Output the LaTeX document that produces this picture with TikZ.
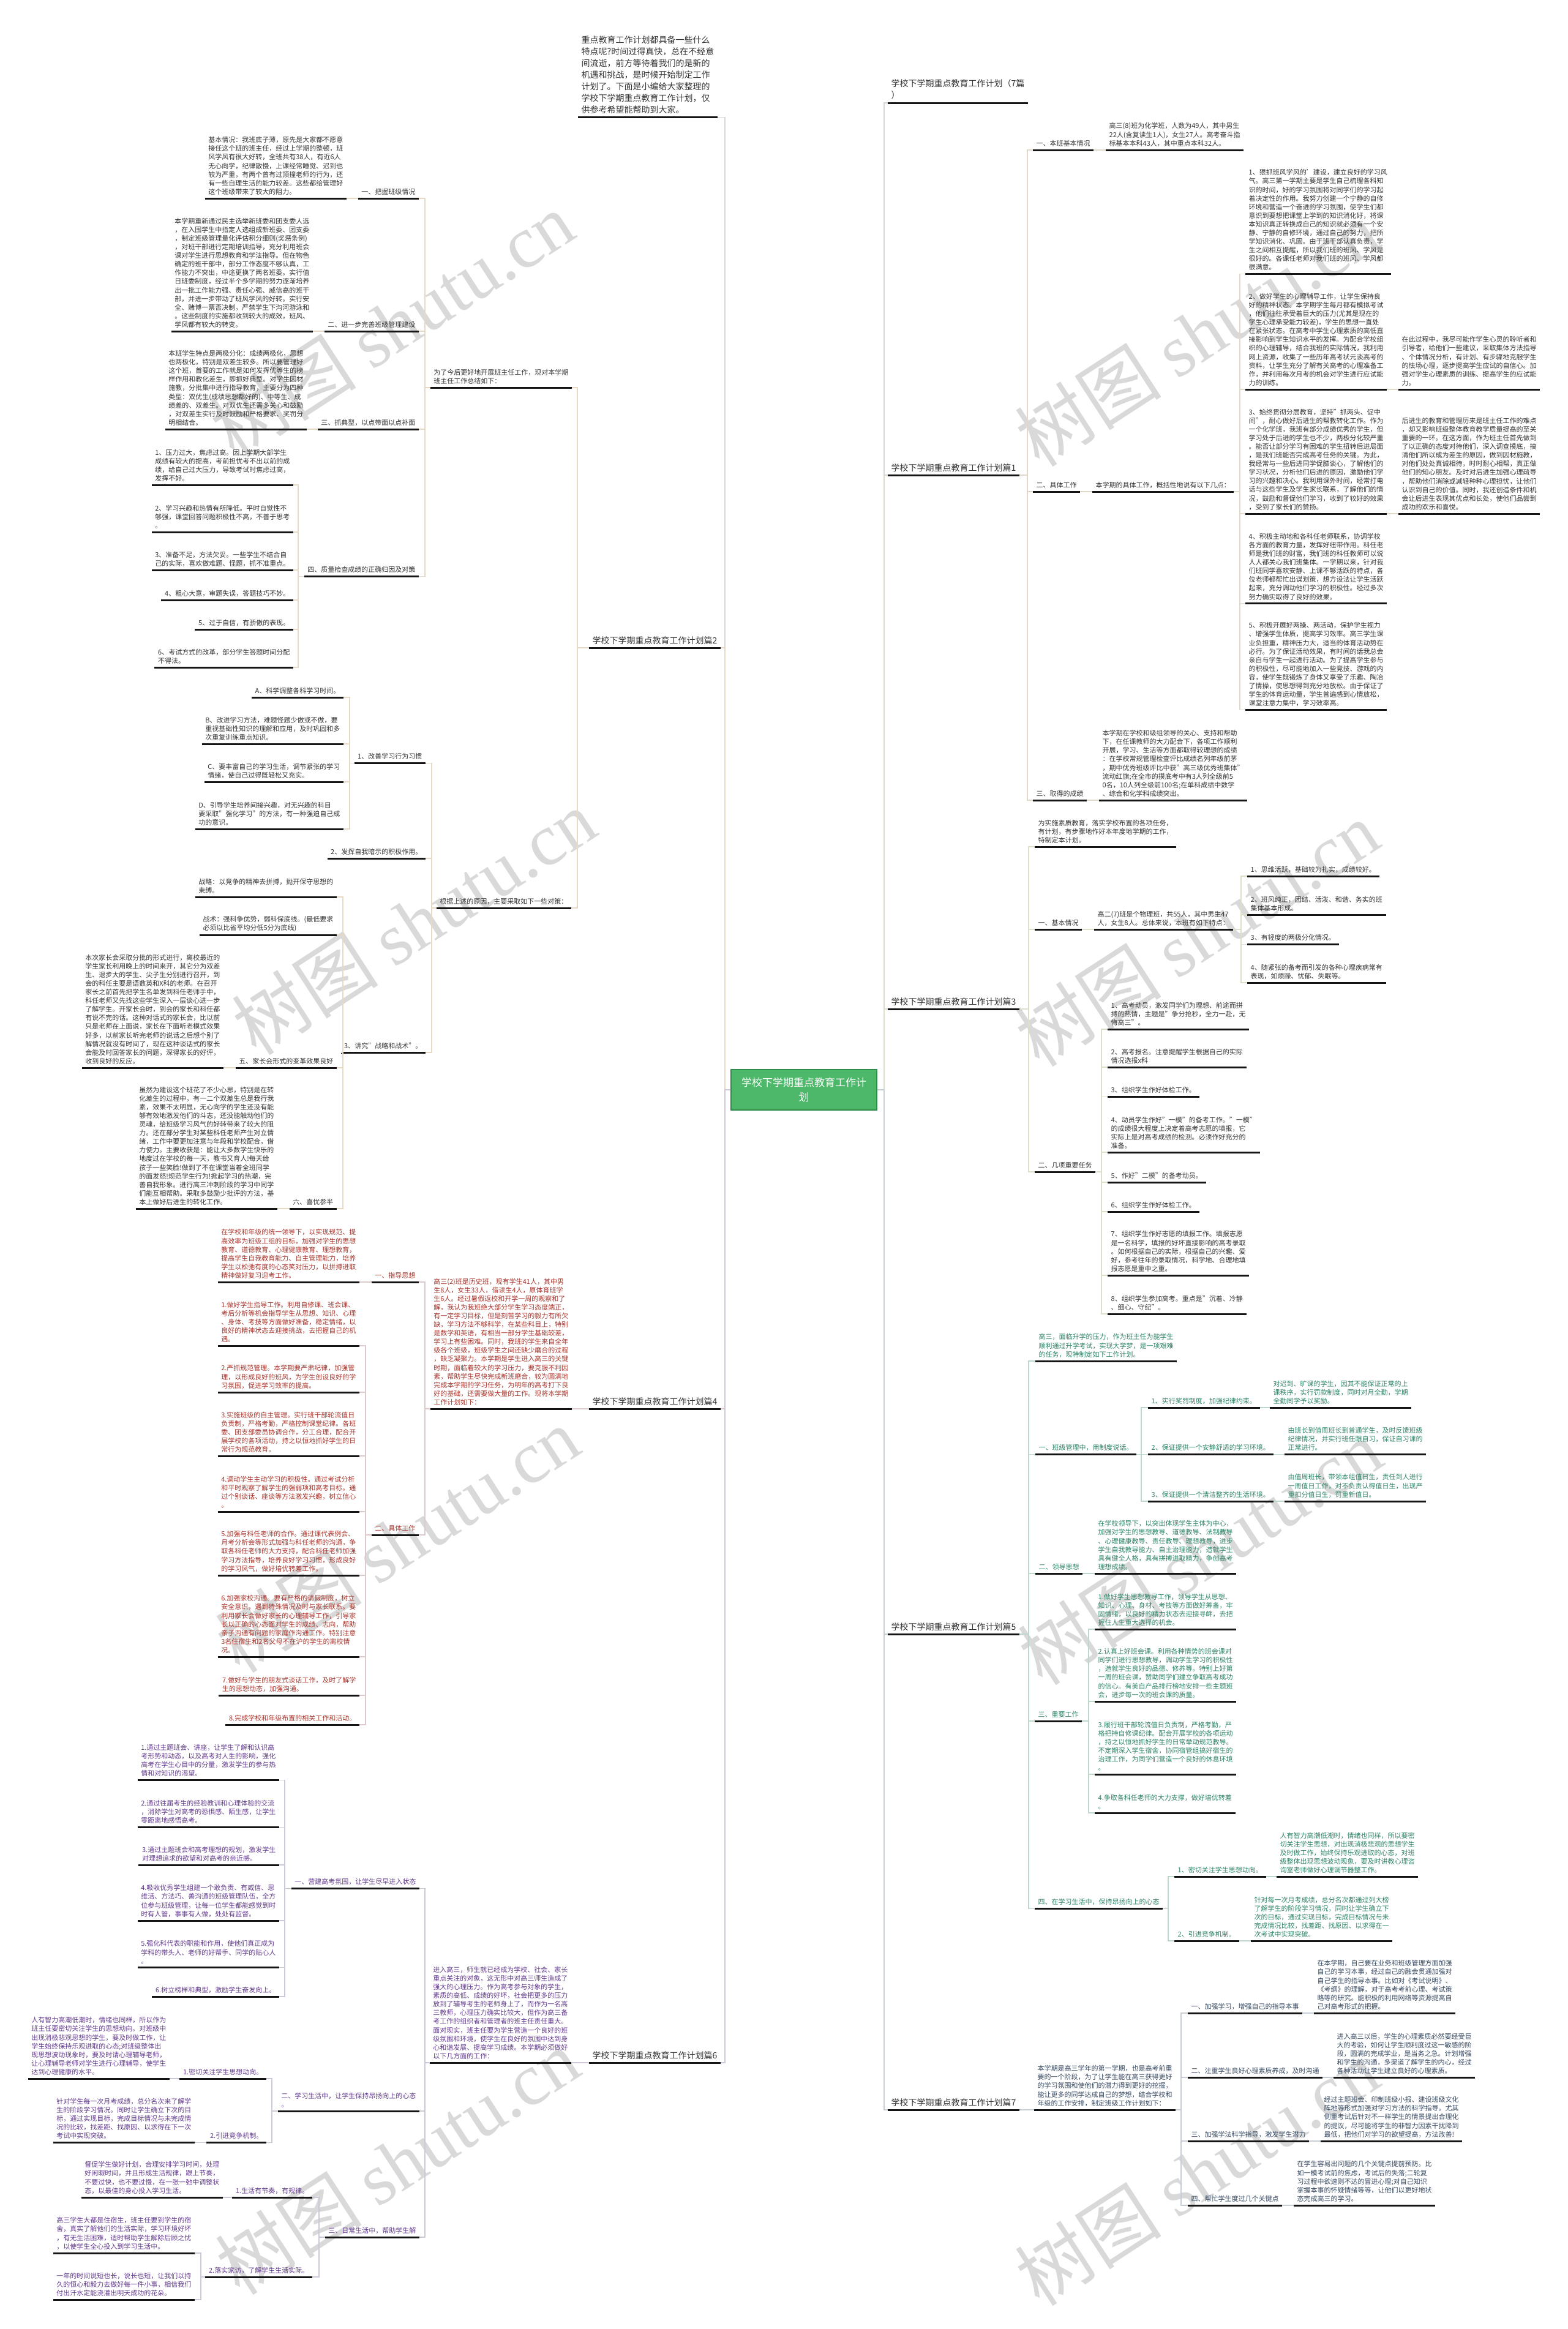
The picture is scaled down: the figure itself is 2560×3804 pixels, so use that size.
\documentclass[tikz,border=0pt]{standalone}
\usepackage{fontspec}
\setmainfont{Noto Sans CJK SC}
\newfontfamily\wmf{Liberation Serif}
\definecolor{tx}{HTML}{333333}
\definecolor{ulc}{HTML}{141414}
\definecolor{red4}{HTML}{A8342B}
\definecolor{grn5}{HTML}{2B8366}
\definecolor{pur6}{HTML}{623A8E}
\definecolor{nav7}{HTML}{34475F}
\definecolor{k1}{HTML}{E0D8CA}
\definecolor{k2}{HTML}{E6DAC6}
\definecolor{k3}{HTML}{DCDFC9}
\definecolor{k4}{HTML}{DDCACA}
\definecolor{k5}{HTML}{BDD7CB}
\definecolor{k6}{HTML}{CEC8D8}
\definecolor{k7}{HTML}{C8CED6}
\definecolor{kc}{HTML}{D6D6D6}
\definecolor{rootfill}{HTML}{4DB86A}
\definecolor{rootdraw}{HTML}{2E8B4A}
\definecolor{wmc}{HTML}{D9D9D9}
\newcommand\cnL[4]{\draw[#1] (#2.south west) -- (#2.south west -| #3) |- (#4.south east);}
\newcommand\cnR[4]{\draw[#1] (#2.south east) -- (#2.south east -| #3) |- (#4.south west);}
\newcommand\cnLs[3]{\draw[#1] (#2.south west) -- (#3.south east);}
\newcommand\cnRs[3]{\draw[#1] (#2.south east) -- (#3.south west);}
\tikzset{
  ul/.style={draw=ulc, line width=3pt},
  base/.style={inner xsep=5.5pt, inner ysep=5.5pt, align=left, font=\fontsize{11}{14.1}\selectfont,
    append after command={(\tikzlastnode.south west) edge[ul] (\tikzlastnode.south east)}},
  L/.style={base, anchor=south east},
  R/.style={base, anchor=south west},
  big/.style={font=\fontsize{14}{19}\selectfont},
  cn/.style={draw=#1, line width=1.5pt},
  wm/.style={font=\fontsize{120}{120}\selectfont, text=wmc, rotate=33, inner sep=0pt},
  rootbox/.style={draw=rootdraw, line width=1.5pt, fill=rootfill, text=white, minimum width=238pt, minimum height=66pt, align=center, font=\fontsize{17}{24}\selectfont, inner sep=6pt}
}
\begin{document}
\begin{tikzpicture}[x=1pt,y=-1pt]
\useasboundingbox (0,0) rectangle (2560,3804);
\fill[white] (0,0) rectangle (2560,3804);
% watermarks
\node[wm] (wm1) at (640,530) {树图 {\wmf shutu.cn}};
\node[wm] (wm2) at (1955,545) {树图 {\wmf shutu.cn}};
\node[wm] (wm3) at (676,1506) {树图 {\wmf shutu.cn}};
\node[wm] (wm4) at (1955,1525) {树图 {\wmf shutu.cn}};
\node[wm] (wm5) at (649,2515) {树图 {\wmf shutu.cn}};
\node[wm] (wm6) at (1960,2535) {树图 {\wmf shutu.cn}};
\node[wm] (wm7) at (649,3531) {树图 {\wmf shutu.cn}};
\node[wm] (wm8) at (1955,3549) {树图 {\wmf shutu.cn}};
% trunks
\coordinate (tL) at (1184,0);
\coordinate (tR) at (1444,0);
\coordinate (t2) at (943,0);
\coordinate (t2a) at (694,0);
\coordinate (t2a4) at (487,0);
\coordinate (t2b) at (705,0);
\coordinate (t2b1) at (571,0);
\coordinate (t2b3) at (560,0);
\coordinate (t4) at (694,0);
\coordinate (t4b) at (597,0);
\coordinate (t6) at (694,0);
\coordinate (t6a) at (465,0);
\coordinate (t6b) at (444,0);
\coordinate (t6c) at (521,0);
\coordinate (t6d) at (328,0);
\coordinate (t1) at (1678,0);
\coordinate (t1b) at (2025,0);
\coordinate (t3) at (1680,0);
\coordinate (t3b) at (2027,0);
\coordinate (t3c) at (1799,0);
\coordinate (t5) at (1680,0);
\coordinate (t5a) at (1864,0);
\coordinate (t5c) at (1778,0);
\coordinate (t5d) at (1908,0);
\coordinate (t7) at (1929,0);
% root
\node[rootbox] (root) at (1313,1780) {学校下学期重点教育工作计\\划};
% main nodes
\begin{scope}[every node/.append style={text=tx}]
\node[L,big] (intro) at (1172,191.5) {重点教育工作计划都具备一些什么\\特点呢?时间过得真快，总在不经意\\间流逝，前方等待着我们的是新的\\机遇和挑战，是时候开始制定工作\\计划了。下面是小编给大家整理的\\学校下学期重点教育工作计划，仅\\供参考希望能帮助到大家。};
\node[L,big] (p2) at (1177,1058) {学校下学期重点教育工作计划篇2};
\node[L,big] (p4) at (1177,2301) {学校下学期重点教育工作计划篇4};
\node[L,big] (p6) at (1177,3369) {学校下学期重点教育工作计划篇6};
\node[R,big] (title7) at (1450,168) {学校下学期重点教育工作计划（7篇\\）};
\node[R,big] (p1) at (1450,776) {学校下学期重点教育工作计划篇1};
\node[R,big] (p3) at (1450,1648) {学校下学期重点教育工作计划篇3};
\node[R,big] (p5) at (1450,2669) {学校下学期重点教育工作计划篇5};
\node[R,big] (p7) at (1450,3446) {学校下学期重点教育工作计划篇7};
\end{scope}
% ===== 篇2 =====
\begin{scope}[every node/.append style={text=tx}]
\node[L] (b2a) at (934,633) {为了今后更好地开展班主任工作，现对本学期\\班主任工作总结如下：};
\node[L] (b2b) at (933,1483) {根据上述的原因，主要采取如下一些对策：};
\node[L] (b2a1) at (684,324) {一、把握班级情况};
\node[L] (b2a1t) at (566,324) {基本情况：我班底子薄，原先是大家都不愿意\\接任这个班的班主任，经过上学期的整顿，班\\风学风有很大好转，全班共有38人，有近6人\\无心向学，纪律散慢，上课经常睡觉、迟到也\\较为严重，有两个曾有过顶撞老师的行为，还\\有一些自理生活的能力较差。这些都给管理好\\这个班级带来了较大的阻力。};
\node[L] (b2a2) at (684,541) {二、进一步完善班级管理建设};
\node[L] (b2a2t) at (511,541) {本学期重新通过民主选举新班委和团支委人选\\，在入围学生中指定人选组成新班委、团支委\\，制定班级管理量化评估积分细则(奖惩条例)\\，对班干部进行定期培训指导，充分利用班会\\课对学生进行思想教育和学法指导。但在物色\\确定的班干部中，部分工作态度不够认真，工\\作能力不突出，中途更换了两名班委。实行值\\日班委制度，经过半个多学期的努力逐渐培养\\出一批工作能力强、责任心强、威信高的班干\\部，并进一步带动了班风学风的好转。实行安\\全、赌博一票否决制，严禁学生下沟河游泳和\\。这些制度的实施都收到较大的成效，班风、\\学风都有较大的转变。};
\node[L] (b2a3) at (684,701) {三、抓典型，以点带面以点补面};
\node[L] (b2a3t) at (501,701) {本班学生特点是两极分化：成绩两极化，思想\\也两极化，特别是双差生较多。所以要管理好\\这个班，首要的工作就是如何发挥优等生的榜\\样作用和教化差生，即抓好典型。对学生因材\\施教，分批集中进行指导教育，主要分为四种\\类型：双优生(成绩思想都好的)、中等生、成\\绩差的、双差生。对双优生还需多关心和鼓励\\，对双差生实行及时鼓励和严格要求、奖罚分\\明相结合。};
\node[L] (b2a4) at (684,941.5) {四、质量检查成绩的正确归因及对策};
\node[L] (q1) at (479,792) {1、压力过大，焦虑过高。因上学期大部学生\\成绩有较大的提高，考前担忧考不出以前的成\\绩，给自己过大压力，导致考试时焦虑过高，\\发挥不好。};
\node[L] (q2) at (479,869) {2、学习兴趣和热情有所降低。平时自觉性不\\够强，课堂回答问题积极性不高，不善于思考\\。};
\node[L] (q3) at (479,931) {3、准备不足，方法欠妥。一些学生不结合自\\己的实际，喜欢做难题、怪题，抓不准重点。};
\node[L] (q4) at (479,980) {4、粗心大意，审题失误，答题技巧不妙。};
\node[L] (q5) at (479,1028) {5、过于自信，有骄傲的表现。};
\node[L] (q6) at (479,1090) {6、考试方式的改革，部分学生答题时间分配\\不得法。};
\node[L] (b2b1) at (695,1246.5) {1、改善学习行为习惯};
\node[L] (sA) at (561,1139) {A、科学调整各科学习时间。};
\node[L] (sB) at (561,1215) {B、改进学习方法，难题怪题少做或不做，要\\重视基础性知识的理解和应用，及时巩固和多\\次重复训练重点知识。};
\node[L] (sC) at (561,1277) {C、要丰富自己的学习生活，调节紧张的学习\\情绪，使自己过得既轻松又充实。};
\node[L] (sD) at (561,1354) {D、引导学生培养间接兴趣，对无兴趣的科目\\要采取"强化学习"的方法，有一种强迫自己成\\功的意识。};
\node[L] (b2b2) at (695,1402) {2、发挥自我暗示的积极作用。};
\node[L] (b2b3) at (695,1719) {3、讲究"战略和战术"。};
\node[L] (zl) at (550,1465) {战略：以竞争的精神去拼搏，抛开保守思想的\\束缚。};
\node[L] (zs) at (550,1527) {战术：强科争优势，弱科保底线。(最低要求\\必须以比省平均分低5分为底线)};
\node[L] (n2five) at (550,1744) {五、家长会形式的变革效果良好};
\node[L] (jz) at (365,1744) {本次家长会采取分批的形式进行，离校最近的\\学生家长利用晚上的时间来开，其它分为双差\\生、退步大的学生、尖子生分别进行召开，到\\会的科任主要是语数英和X科的老师。在召开\\家长之前首先把学生名单发到科任老师手中，\\科任老师又先找这些学生深入一层谈心进一步\\了解学生。开家长会时，到会的家长和科任都\\有说不完的话。这种对话式的家长会，比以前\\只是老师在上面说，家长在下面听老模式效果\\好多，以前家长听完老师的说话之后想个别了\\解情况就没有时间了，现在这种谈话式的家长\\会能及时回答家长的问题，深得家长的好评，\\收到良好的反应。};
\node[L] (n2six) at (550,1974) {六、喜忧参半};
\node[L] (sr) at (453,1974) {虽然为建设这个班花了不少心思，特别是在转\\化差生的过程中，有一二个双差生总是我行我\\素，效果不太明显，无心向学的学生还没有能\\够有效地激发他们的斗志，还没能触动他们的\\灵魂，给班级学习风气的好转带来了较大的阻\\力。还在部分学生对某些科任老师产生对立情\\绪，工作中要更加注意与年段和学校配合，借\\力使力。主要收获是：能让大多数学生快乐的\\地度过在学校的每一天，教书又育人!每天给\\孩子一些笑脸!做到了不在课堂当着全班同学\\的面发怒!规范学生行为!掀起学习的热潮，完\\善自我形象。进行高三冲刺阶段的学习中同学\\们能互相帮助。采取多鼓励少批评的方法，基\\本上做好后进生的转化工作。};
\end{scope}
% ===== 篇4 =====
\begin{scope}[every node/.append style={text=red4}]
\node[L] (b4) at (934,2301) {高三(2)班是历史班，现有学生41人，其中男\\生8人，女生33人，借读生4人，原体育班学\\生6人。经过暑假返校和开学一周的观察和了\\解，我认为我班绝大部分学生学习态度端正，\\有一定学习目标，但是刻苦学习的毅力有所欠\\缺，学习方法不够科学，在某些科目上，特别\\是数学和英语，有相当一部分学生基础较差，\\学习上有些困难。同时，我班的学生来自全年\\级各个班级，班级学生之间还缺少磨合的过程\\，缺乏凝聚力。本学期是学生进入高三的关键\\时期，面临着较大的学习压力，要克服不利因\\素，帮助学生尽快完成新班磨合，较为圆满地\\完成本学期的学习任务，为明年的高考打下良\\好的基础，还需要做大量的工作。现将本学期\\工作计划如下：};
\node[L] (b4a) at (684,2094) {一、指导思想};
\node[L] (b4at) at (587,2094) {在学校和年级的统一领导下，以实现规范、提\\高效率为班级工组的目标，加强对学生的思想\\教育、道德教育、心理健康教育、理想教育，\\提高学生自我教育能力、自主管理能力，培养\\学生以松弛有度的心态笑对压力，以拼搏进取\\精神做好复习迎考工作。};
\node[L] (b4b) at (684,2507) {二、具体工作};
\node[L] (w1) at (587,2198) {1.做好学生指导工作。利用自修课、班会课、\\考后分析等机会指导学生从思想、知识、心理\\、身体、考技等方面做好准备，稳定情绪，以\\良好的精神状态去迎接挑战，去把握自己的机\\遇。};
\node[L] (w2) at (587,2274) {2.严抓规范管理。本学期要严肃纪律，加强管\\理，以形成良好的班风，为学生创设良好的学\\习氛围，促进学习效率的提高。};
\node[L] (w3) at (587,2378) {3.实施班级的自主管理。实行班干部轮流值日\\负责制，严格考勤，严格控制课堂纪律。各班\\委、团支部委员协调合作，分工合理，配合开\\展学校的各项活动，持之以恒地抓好学生的日\\常行为规范教育。};
\node[L] (w4) at (587,2469) {4.调动学生主动学习的积极性。通过考试分析\\和平时观察了解学生的强弱项和高考目标。通\\过个别谈话、座谈等方法激发兴趣，树立信心\\。};
\node[L] (w5) at (587,2573) {5.加强与科任老师的合作。通过课代表例会、\\月考分析会等形式加强与科任老师的沟通，争\\取各科任老师的大力支持，配合科任老师加强\\学习方法指导，培养良好学习习惯，形成良好\\的学习风气，做好培优转差工作。};
\node[L] (w6) at (587,2706) {6.加强家校沟通。要有严格的请假制度，树立\\安全意识，遇到特殊情况及时与家长联系。要\\利用家长会做好家长的心理辅导工作，引导家\\长以正确的心态面对学生的成绩、志向，帮助\\亲子沟通有问题的家庭作沟通工作。特别注意\\3名住宿生和2名父母不在沪的学生的离校情\\况。};
\node[L] (w7) at (587,2769) {7.做好与学生的朋友式谈话工作，及时了解学\\生的思想动态，加强沟通。};
\node[L] (w8) at (587,2817) {8.完成学校和年级布置的相关工作和活动。};
\end{scope}
% ===== 篇6 =====
\begin{scope}[every node/.append style={text=pur6}]
\node[L] (b6) at (933,3369) {进入高三，师生就已经成为学校、社会、家长\\重点关注的对象，这无形中对高三师生造成了\\强大的心理压力。作为高考参与对象的学生，\\素质的高低、成绩的好坏，社会把更多的压力\\放到了辅导考生的老师身上了，而作为一名高\\三教师，心理压力确实比较大，但作为高三备\\考工作的组织者和管理者的班主任责任重大。\\面对现实，班主任要为学生营造一个良好的班\\级氛围和环境，使学生在良好的氛围中达到身\\心和谐发展、提高学习成绩。本学期必须做好\\以下几方面的工作：};
\node[L] (b6a) at (685,3084.5) {一、营建高考氛围，让学生尽早进入状态};
\node[L] (v1) at (456,2907.5) {1.通过主题班会、讲座，让学生了解和认识高\\考形势和动态，以及高考对人生的影响，强化\\高考在学生心目中的分量，激发学生的参与热\\情和对知识的渴望。};
\node[L] (v2) at (456,2984.5) {2.通过往届考生的经验教训和心理体验的交流\\，消除学生对高考的恐惧感、陌生感，让学生\\零距离地感悟高考。};
\node[L] (v3) at (456,3046) {3.通过主题班会和高考理想的规划，激发学生\\对理想追求的欲望和对高考的亲近感。};
\node[L] (v4) at (456,3137) {4.吸收优秀学生组建一个敢负责、有威信、思\\维活、方法巧、善沟通的班级管理队伍，全方\\位参与班级管理，让每一位学生都能感觉到时\\时有人管，事事有人做，处处有监督。};
\node[L] (v5) at (456,3213.5) {5.强化科代表的职能和作用，使他们真正成为\\学科的带头人、老师的好帮手、同学的贴心人\\。};
\node[L] (v6) at (456,3261) {6.树立榜样和典型，激励学生奋发向上。};
\node[L] (b6b) at (685,3448) {二、学习生活中，让学生保持昂扬向上的心态\\。};
\node[L] (b6b1) at (435,3395) {1.密切关注学生思想动向。};
\node[L] (b6b1t) at (277,3395) {人有智力高潮低潮时，情绪也同样，所以作为\\班主任要密切关注学生的思想动向。对班级中\\出现消极悲观思想的学生，要及时做工作，让\\学生始终保持乐观进取的心态;对班级整体出\\现思想波动现象时，要及时请心理辅导老师，\\让心理辅导老师对学生进行心理辅导，使学生\\达到心理健康的水平。};
\node[L] (b6b2) at (435,3499.5) {2.引进竞争机制。};
\node[L] (b6b2t) at (318,3499.5) {针对学生每一次月考成绩，总分名次来了解学\\生的阶段学习情况。同时让学生确立下次的目\\标，通过实现目标，完成目标情况与未完成情\\况的比较，找差距、找原因、以求得在下一次\\考试中实现突破。};
\node[L] (b6c) at (685,3654) {三、日常生活中，帮助学生解};
\node[L] (b6c1) at (510,3589) {1.生活有节奏，有规律。};
\node[L] (b6c1t) at (364,3589) {督促学生做好计划，合理安排学习时间，处理\\好闲暇时间，并且形成生活规律，跟上节奏，\\不要过快，也不要过慢，在一张一弛中调整状\\态，以最佳的身心投入学习生活。};
\node[L] (b6c2) at (510,3719) {2.落实家访，了解学生生活实际。};
\node[L] (b6c2a) at (318,3680) {高三学生大都是住宿生，班主任要到学生的宿\\舍，真实了解他们的生活实际，学习环境好坏\\，有无生活困难，适时帮助学生解除后顾之忧\\，以使学生全心投入到学习生活中。};
\node[L] (b6c2b) at (318,3756) {一年的时间说短也长，说长也短，让我们以持\\久的恒心和毅力去做好每一件小事，相信我们\\付出汗水定能浇灌出明天成功的花朵。};
\end{scope}
% ===== 篇1 =====
\begin{scope}[every node/.append style={text=tx}]
\node[R] (b1a) at (1687,245) {一、本班基本情况};
\node[R] (b1at) at (1806,245) {高三(8)班为化学班，人数为49人，其中男生\\22人(含复读生1人)，女生27人。高考奋斗指\\标基本本科43人，其中重点本科32人。};
\node[R] (b1b) at (1687,803) {二、具体工作};
\node[R] (b1bt) at (1784,803) {本学期的具体工作，概括性地说有以下几点：};
\node[R] (r1) at (2034,447.5) {1、狠抓班风学风的'建设，建立良好的学习风\\气。高三第一学期主要是学生自己梳理各科知\\识的时间，好的学习氛围将对同学们的学习起\\着决定性的作用。我努力创建一个宁静的自修\\环境和营造一个奋进的学习氛围，使学生们都\\意识到要想把课堂上学到的知识消化好，将课\\本知识真正转换成自己的知识就必须有一个安\\静、宁静的自修环境，通过自己的努力，把所\\学知识消化、巩固。由于班干部认真负责，学\\生之间相互提醒，所以我们班的班风、学风是\\很好的。各课任老师对我们班的班风、学风都\\很满意。};
\node[R] (r2) at (2034,636) {2、做好学生的心理辅导工作，让学生保持良\\好的精神状态。本学期学生每月都有模拟考试\\，他们往往承受着巨大的压力(尤其是现在的\\学生心理承受能力较差)，学生的思想一直处\\在紧张状态。在高考中学生心理素质的高低直\\接影响到学生知识水平的发挥。为配合学校组\\织的心理辅导，结合我班的实际情况，我利用\\网上资源，收集了一些历年高考状元谈高考的\\资料，让学生充分了解有关高考的心理准备工\\作，并利用每次月考的机会对学生进行应试能\\力的训练。};
\node[R] (r2t) at (2284,636) {在此过程中，我尽可能作学生心灵的聆听者和\\引导者，给他们一些建议，采取集体方法指导\\、个体情况分析，有计划、有步骤地克服学生\\的怯场心理，逐步提高学生应试的自信心。加\\强对学生心理素质的训练、提高学生的应试能\\力。};
\node[R] (r3) at (2034,839) {3、始终贯彻分层教育，坚持"抓两头、促中\\间"，耐心做好后进生的帮教转化工作。作为\\一个化学班，我班有部分成绩优秀的学生，但\\学习处于后进的学生也不少，两极分化较严重\\。能否让部分学习有困难的学生扭转后进局面\\，是我们班能否完成高考任务的关键。为此，\\我经常与一些后进同学促膝谈心，了解他们的\\学习状况，分析他们后进的原因，激励他们学\\习的兴趣和决心。我利用课外时间，经常打电\\话与这些学生及学生家长联系，了解他们的情\\况，鼓励和督促他们学习，收到了较好的效果\\，受到了家长们的赞扬。};
\node[R] (r3t) at (2284,839) {后进生的教育和管理历来是班主任工作的难点\\，却又影响班级整体教育教学质量提高的至关\\重要的一环。在这方面，作为班主任首先做到\\了以正确的态度对待他们，深入调查摸底，搞\\清他们所以成为差生的原因，做到因材施教，\\对他们处处真诚相待，时时耐心相帮，真正做\\他们的知心朋友。及时对后进生加强心理疏导\\，帮助他们消除或减轻种种心理担忧，让他们\\认识到自己的价值。同时，我还创造条件和机\\会让后进生表现其优点和长处，使他们品尝到\\成功的欢乐和喜悦。};
\node[R] (r4) at (2034,985.7) {4、积极主动地和各科任老师联系，协调学校\\各方面的教育力量，发挥好纽带作用。科任老\\师是我们班的财富，我们班的科任教师可以说\\人人都关心我们班集体。一学期以来，针对我\\们班同学喜欢安静、上课不够活跃的特点，各\\位老师都帮忙出谋划策，想方设法让学生活跃\\起来，充分调动他们学习的积极性。经过多次\\努力确实取得了良好的效果。};
\node[R] (r5) at (2034,1159.6) {5、积极开展好两操、两活动，保护学生视力\\、增强学生体质，提高学习效率。高三学生课\\业负担重，精神压力大，适当的体育活动势在\\必行。为了保证活动效果，有时间的话我总会\\亲自与学生一起进行活动。为了提高学生参与\\的积极性，尽可能地加入一些竞技、游戏的内\\容，使学生既锻炼了身体又享受了乐趣、陶冶\\了情操，使思想得到充分地放松。由于保证了\\学生的体育运动量，学生普遍感到心情放松，\\课堂注意力集中，学习效率高。};
\node[R] (b1c) at (1687,1307) {三、取得的成绩};
\node[R] (b1ct) at (1795,1307) {本学期在学校和级组领导的关心、支持和帮助\\下，在任课教师的大力配合下，各项工作顺利\\开展，学习、生活等方面都取得较理想的成绩\\：在学校常规管理检查评比成绩名列年级前茅\\，期中优秀班级评比中获"高三级优秀班集体"\\流动红旗;在全市的摸底考中有3人列全级前5\\0名，10人列全级前100名;在单科成绩中数学\\、综合和化学科成绩突出。};
\end{scope}
% ===== 篇3 =====
\begin{scope}[every node/.append style={text=tx}]
\node[R] (c0) at (1690,1383) {为实施素质教育，落实学校布置的各项任务，\\有计划，有步骤地作好本年度地学期的工作，\\特制定本计划。};
\node[R] (c1) at (1690,1518) {一、基本情况};
\node[R] (c1t) at (1787,1518) {高二(7)班是个物理班，共55人，其中男生47\\人，女生8人。总体来说，本班有如下特点：};
\node[R] (u1) at (2037,1431) {1、思维活跃，基础较为扎实，成绩较好。};
\node[R] (u2) at (2037,1494) {2、班风纯正，团结、活泼、和谐、务实的班\\集体基本形成。};
\node[R] (u3) at (2037,1542.5) {3、有轻度的两极分化情况。};
\node[R] (u4) at (2037,1605) {4、随紧张的备考而引发的各种心理疾病常有\\表现，如烦躁、忧郁、失眠等。};
\node[R] (c2) at (1690,1914) {二、几项重要任务};
\node[R] (m1) at (1809,1681) {1、高考动员，激发同学们为理想、前途而拼\\搏的热情，主题是"争分抢秒，全力一赴，无\\悔高三"。};
\node[R] (m2) at (1809,1743) {2、高考报名。注意提醒学生根据自己的实际\\情况选报x科};
\node[R] (m3) at (1809,1791.5) {3、组织学生作好体检工作。};
\node[R] (m4) at (1809,1882) {4、动员学生作好"一模"的备考工作。"一模"\\的成绩很大程度上决定着高考志愿的填报，它\\实际上是对高考成绩的检测。必须作好充分的\\准备。};
\node[R] (m5) at (1809,1931) {5、作好"二模"的备考动员。};
\node[R] (m6) at (1809,1979) {6、组织学生作好体检工作。};
\node[R] (m7) at (1809,2083) {7、组织学生作好志愿的填报工作。填报志愿\\是一名科学，填报的好坏直接影响的高考录取\\。如何根据自己的实际，根据自己的兴趣、爱\\好，参考往年的录取情况，科学地、合理地填\\报志愿是重中之重。};
\node[R] (m8) at (1809,2146) {8、组织学生参加高考。重点是"沉着、冷静\\、细心、守纪"。};
\end{scope}
% ===== 篇5 =====
\begin{scope}[every node/.append style={text=grn5}]
\node[R] (g0) at (1691,2223) {高三，面临升学的压力，作为班主任为能学生\\顺利通过升学考试，实现大学梦，是一项艰难\\的任务，现特制定如下工作计划。};
\node[R] (g1) at (1691,2375.5) {一、班级管理中，用制度说话。};
\node[R] (g11) at (1875,2299) {1、实行奖罚制度，加强纪律约束。};
\node[R] (g11t) at (2074,2299) {对迟到、旷课的学生，因其不能保证正常的上\\课秩序，实行罚款制度，同时对月全勤，学期\\全勤同学予以奖励。};
\node[R] (g12) at (1875,2375.5) {2、保证提供一个安静舒适的学习环境。};
\node[R] (g12t) at (2098,2375.5) {由班长到值周班长到普通学生，及时反馈班级\\纪律情况，并实行班任跟自习，保证自习课的\\正常进行。};
\node[R] (g13) at (1875,2452) {3、保证提供一个清洁整齐的生活环境。};
\node[R] (g13t) at (2098,2452) {由值周班长，带领本组值日生，责任到人进行\\一周值日工作，对不负责认得值日生，出现严\\重扣分值日生，罚重新值日。};
\node[R] (g2) at (1691,2570) {二、领导思想};
\node[R] (g2t) at (1788,2570) {在学校领导下，以突出体现学生主体为中心，\\加强对学生的思想教导、道德教导、法制教导\\、心理健康教导、责任教导、理想教导，进步\\学生自我教导能力、自主治理能力，造就学生\\具有健全人格，具有拼搏进取精力，争创高考\\理想成绩。};
\node[R] (g3) at (1690,2811) {三、重要工作};
\node[R] (g31) at (1788,2661) {1.做好学生思想教导工作，领导学生从思想、\\知识、心理、身材、考技等方面做好筹备，牢\\固情绪，以良好的精力状态去迎接寻衅，去把\\握住人生重大选择的机会。};
\node[R] (g32) at (1788,2779) {2.认真上好班会课。利用各种情势的班会课对\\同学们进行思想教导，调动学生学习的积极性\\，造就学生良好的品德、修养等。特别上好第\\一周的班会课，赞助同学们建立争取高考成功\\的信心。有美自产品排行榜地安排一些主题班\\会，进步每一次的班会课的质量。};
\node[R] (g33) at (1788,2898) {3.履行班干部轮流值日负责制，严格考勤，严\\格把持自修课纪律。配合开展学校的各项运动\\，持之以恒地抓好学生的日常举动规范教导。\\不定期深入学生宿舍，协同宿管组搞好宿生的\\治理工作，为同学们营造一个良好的休息环境\\。};
\node[R] (g34) at (1788,2961) {4.争取各科任老师的大力支撑，做好培优转差\\。};
\node[R] (g4) at (1690,3117.5) {四、在学习生活中，保持昂扬向上的心态};
\node[R] (g41) at (1918,3065) {1、密切关注学生思想动向。};
\node[R] (g41t) at (2085,3065) {人有智力高潮低潮时，情绪也同样，所以要密\\切关注学生思想，对出现消极悲观的思想学生\\及时做工作，始终保持乐观进取的心态，对班\\级整体出现思想波动现象，要及时讲教心理咨\\询室老师做好心理调节器整工作。};
\node[R] (g42) at (1918,3170) {2、引进竞争机制。};
\node[R] (g42t) at (2043,3170) {针对每一次月考成绩，总分名次都通过列大榜\\了解学生的阶段学习情况，同时让学生确立下\\次的目标，通过实现目标，完成目标情况与未\\完成情况比较，找差距、找原因、以求得在一\\次考试中实现突破。};
\end{scope}
% ===== 篇7 =====
\begin{scope}[every node/.append style={text=nav7}]
\node[R] (h0) at (1689,3446) {本学期是高三学年的第一学期，也是高考前重\\要的一个阶段，为了让学生能在高三获得更好\\的学习氛围和使他们的潜力得到更好的挖掘，\\能让更多的同学达成自己的梦想，结合学校和\\年级的工作安排，制定班级工作计划如下：};
\node[R] (h1) at (1940,3288) {一、加强学习，增强自己的指导本事};
\node[R] (h1t) at (2146,3288) {在本学期，自己要在业务和班级管理方面加强\\自己的学习本事，经过自己的融会贯通加强对\\自己学生的指导本事。比如对《考试说明》、\\《考纲》的理解，对于高考考前心理、考试策\\略等的研究。能积极的利用网络等资源提高自\\己对高考形式的把握。};
\node[R] (h2) at (1940,3393) {二、注重学生良好心理素质养成，及时沟通};
\node[R] (h2t) at (2178,3393) {进入高三以后，学生的心理素质必然要经受巨\\大的考验，如何让学生顺利度过这一敏感的阶\\段，圆满的完成学业，是当务之急。计划增强\\和学生的沟通，多渠道了解学生的内心，经过\\各种活动让学生建立良好的心理素质。};
\node[R] (h3) at (1940,3497) {三、加强学法科学指导，激发学生潜力};
\node[R] (h3t) at (2157,3497) {经过主题班会、印制班级小报、建设班级文化\\阵地等形式加强对学习方法的科学指导。尤其\\侧重考试后针对不一样学生的情景提出合理化\\的提议，尽可能将学生的非智力因素干扰降到\\最低，把他们对学习的欲望提高，方法改善!};
\node[R] (h4) at (1940,3602) {四、帮忙学生度过几个关键点};
\node[R] (h4t) at (2113,3602) {在学生容易出问题的几个关键点提前预防。比\\如一模考试前的焦虑，考试后的失落;二轮复\\习过程中欲速则不达的冒进心理;对自己知识\\掌握本事的怀疑情绪等等，让他们以更好地状\\态完成高三的学习。};
\end{scope}
% ===== connectors: root to main =====
\draw[cn=kc] (root.west) -- (root.west -| tL) |- (intro.south east);
\draw[cn=k2] (root.west) -- (root.west -| tL) |- (p2.south east);
\draw[cn=k4] (root.west) -- (root.west -| tL) |- (p4.south east);
\draw[cn=k6] (root.west) -- (root.west -| tL) |- (p6.south east);
\draw[cn=kc] (root.east) -- (root.east -| tR) |- (title7.south west);
\draw[cn=k1] (root.east) -- (root.east -| tR) |- (p1.south west);
\draw[cn=k3] (root.east) -- (root.east -| tR) |- (p3.south west);
\draw[cn=k5] (root.east) -- (root.east -| tR) |- (p5.south west);
\draw[cn=k7] (root.east) -- (root.east -| tR) |- (p7.south west);
% 篇2
\cnL{cn=k2}{p2}{t2}{b2a}
\cnL{cn=k2}{p2}{t2}{b2b}
\cnL{cn=k2}{b2a}{t2a}{b2a1}
\cnL{cn=k2}{b2a}{t2a}{b2a2}
\cnL{cn=k2}{b2a}{t2a}{b2a3}
\cnL{cn=k2}{b2a}{t2a}{b2a4}
\cnLs{cn=k2}{b2a1}{b2a1t}
\cnLs{cn=k2}{b2a2}{b2a2t}
\cnLs{cn=k2}{b2a3}{b2a3t}
\cnL{cn=k2}{b2a4}{t2a4}{q1}
\cnL{cn=k2}{b2a4}{t2a4}{q2}
\cnL{cn=k2}{b2a4}{t2a4}{q3}
\cnL{cn=k2}{b2a4}{t2a4}{q4}
\cnL{cn=k2}{b2a4}{t2a4}{q5}
\cnL{cn=k2}{b2a4}{t2a4}{q6}
\cnL{cn=k2}{b2b}{t2b}{b2b1}
\cnL{cn=k2}{b2b}{t2b}{b2b2}
\cnL{cn=k2}{b2b}{t2b}{b2b3}
\cnL{cn=k2}{b2b1}{t2b1}{sA}
\cnL{cn=k2}{b2b1}{t2b1}{sB}
\cnL{cn=k2}{b2b1}{t2b1}{sC}
\cnL{cn=k2}{b2b1}{t2b1}{sD}
\cnL{cn=k2}{b2b3}{t2b3}{zl}
\cnL{cn=k2}{b2b3}{t2b3}{zs}
\cnL{cn=k2}{b2b3}{t2b3}{n2five}
\cnL{cn=k2}{b2b3}{t2b3}{n2six}
\cnLs{cn=k2}{n2five}{jz}
\cnLs{cn=k2}{n2six}{sr}
% 篇4
\cnLs{cn=k4}{p4}{b4}
\cnL{cn=k4}{b4}{t4}{b4a}
\cnL{cn=k4}{b4}{t4}{b4b}
\cnLs{cn=k4}{b4a}{b4at}
\cnL{cn=k4}{b4b}{t4b}{w1}
\cnL{cn=k4}{b4b}{t4b}{w2}
\cnL{cn=k4}{b4b}{t4b}{w3}
\cnL{cn=k4}{b4b}{t4b}{w4}
\cnL{cn=k4}{b4b}{t4b}{w5}
\cnL{cn=k4}{b4b}{t4b}{w6}
\cnL{cn=k4}{b4b}{t4b}{w7}
\cnL{cn=k4}{b4b}{t4b}{w8}
% 篇6
\cnLs{cn=k6}{p6}{b6}
\cnL{cn=k6}{b6}{t6}{b6a}
\cnL{cn=k6}{b6}{t6}{b6b}
\cnL{cn=k6}{b6}{t6}{b6c}
\cnL{cn=k6}{b6a}{t6a}{v1}
\cnL{cn=k6}{b6a}{t6a}{v2}
\cnL{cn=k6}{b6a}{t6a}{v3}
\cnL{cn=k6}{b6a}{t6a}{v4}
\cnL{cn=k6}{b6a}{t6a}{v5}
\cnL{cn=k6}{b6a}{t6a}{v6}
\cnL{cn=k6}{b6b}{t6b}{b6b1}
\cnL{cn=k6}{b6b}{t6b}{b6b2}
\cnLs{cn=k6}{b6b1}{b6b1t}
\cnLs{cn=k6}{b6b2}{b6b2t}
\cnL{cn=k6}{b6c}{t6c}{b6c1}
\cnL{cn=k6}{b6c}{t6c}{b6c2}
\cnLs{cn=k6}{b6c1}{b6c1t}
\cnL{cn=k6}{b6c2}{t6d}{b6c2a}
\cnL{cn=k6}{b6c2}{t6d}{b6c2b}
% 篇1
\cnR{cn=k1}{p1}{t1}{b1a}
\cnR{cn=k1}{p1}{t1}{b1b}
\cnR{cn=k1}{p1}{t1}{b1c}
\cnRs{cn=k1}{b1a}{b1at}
\cnRs{cn=k1}{b1b}{b1bt}
\cnRs{cn=k1}{b1c}{b1ct}
\cnR{cn=k1}{b1bt}{t1b}{r1}
\cnR{cn=k1}{b1bt}{t1b}{r2}
\cnR{cn=k1}{b1bt}{t1b}{r3}
\cnR{cn=k1}{b1bt}{t1b}{r4}
\cnR{cn=k1}{b1bt}{t1b}{r5}
\cnRs{cn=k1}{r2}{r2t}
\cnRs{cn=k1}{r3}{r3t}
% 篇3
\cnR{cn=k3}{p3}{t3}{c0}
\cnR{cn=k3}{p3}{t3}{c1}
\cnR{cn=k3}{p3}{t3}{c2}
\cnRs{cn=k3}{c1}{c1t}
\cnR{cn=k3}{c1t}{t3b}{u1}
\cnR{cn=k3}{c1t}{t3b}{u2}
\cnR{cn=k3}{c1t}{t3b}{u3}
\cnR{cn=k3}{c1t}{t3b}{u4}
\cnR{cn=k3}{c2}{t3c}{m1}
\cnR{cn=k3}{c2}{t3c}{m2}
\cnR{cn=k3}{c2}{t3c}{m3}
\cnR{cn=k3}{c2}{t3c}{m4}
\cnR{cn=k3}{c2}{t3c}{m5}
\cnR{cn=k3}{c2}{t3c}{m6}
\cnR{cn=k3}{c2}{t3c}{m7}
\cnR{cn=k3}{c2}{t3c}{m8}
% 篇5
\cnR{cn=k5}{p5}{t5}{g0}
\cnR{cn=k5}{p5}{t5}{g1}
\cnR{cn=k5}{p5}{t5}{g2}
\cnR{cn=k5}{p5}{t5}{g3}
\cnR{cn=k5}{p5}{t5}{g4}
\cnR{cn=k5}{g1}{t5a}{g11}
\cnR{cn=k5}{g1}{t5a}{g12}
\cnR{cn=k5}{g1}{t5a}{g13}
\cnRs{cn=k5}{g11}{g11t}
\cnRs{cn=k5}{g12}{g12t}
\cnRs{cn=k5}{g13}{g13t}
\cnRs{cn=k5}{g2}{g2t}
\cnR{cn=k5}{g3}{t5c}{g31}
\cnR{cn=k5}{g3}{t5c}{g32}
\cnR{cn=k5}{g3}{t5c}{g33}
\cnR{cn=k5}{g3}{t5c}{g34}
\cnR{cn=k5}{g4}{t5d}{g41}
\cnR{cn=k5}{g4}{t5d}{g42}
\cnRs{cn=k5}{g41}{g41t}
\cnRs{cn=k5}{g42}{g42t}
% 篇7
\cnRs{cn=k7}{p7}{h0}
\cnR{cn=k7}{h0}{t7}{h1}
\cnR{cn=k7}{h0}{t7}{h2}
\cnR{cn=k7}{h0}{t7}{h3}
\cnR{cn=k7}{h0}{t7}{h4}
\cnRs{cn=k7}{h1}{h1t}
\cnRs{cn=k7}{h2}{h2t}
\cnRs{cn=k7}{h3}{h3t}
\cnRs{cn=k7}{h4}{h4t}
\end{tikzpicture}
\end{document}
